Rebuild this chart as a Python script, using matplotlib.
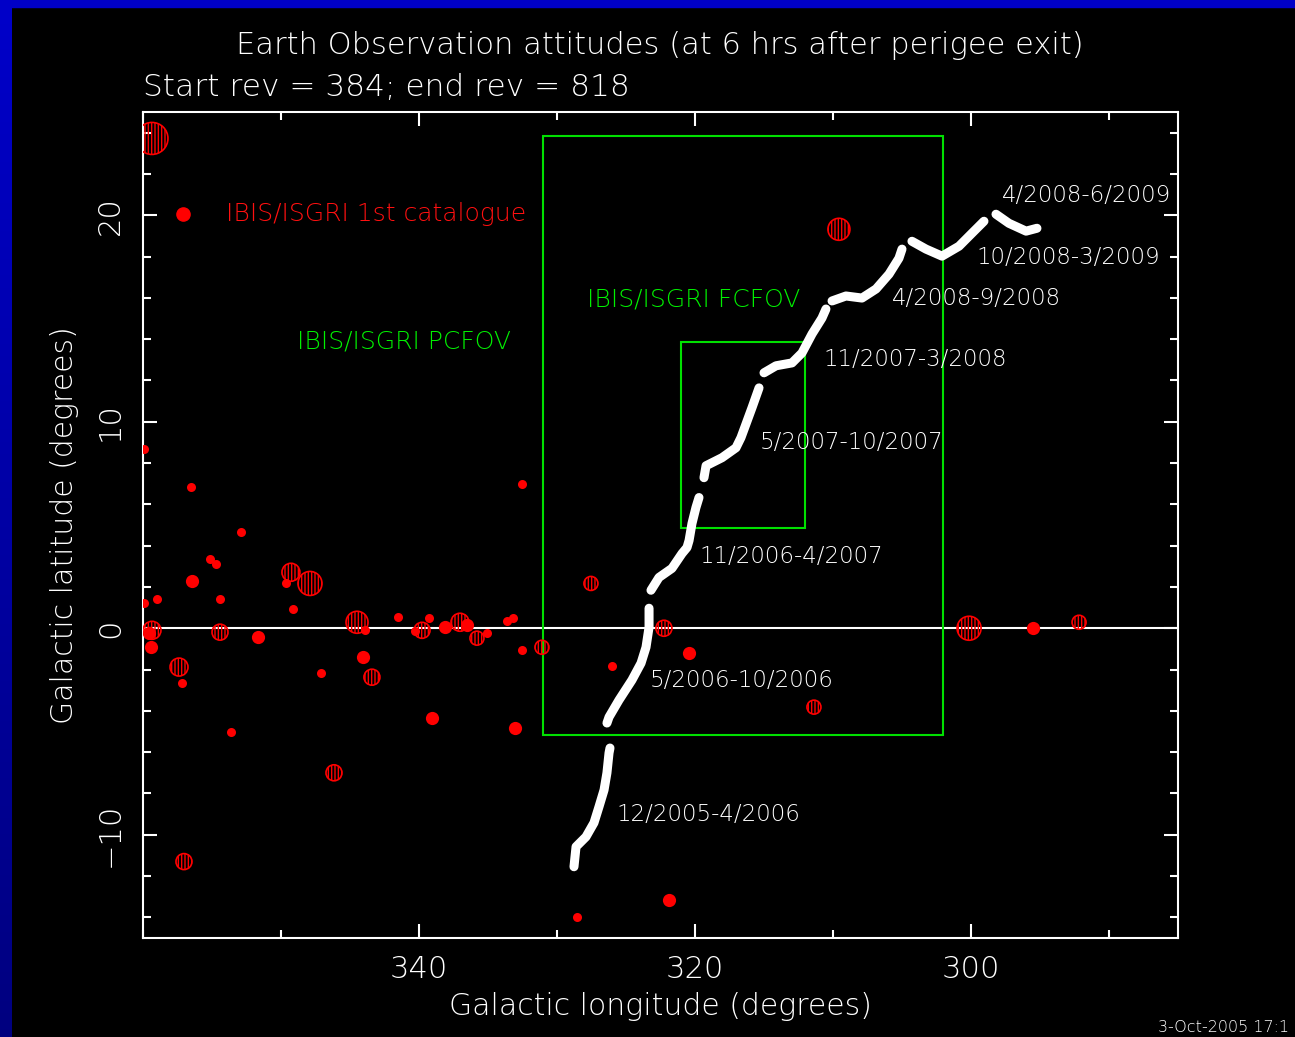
#### Workspace setup ####
import numpy as np
import matplotlib.pyplot as plt
from matplotlib.patches import Rectangle
from matplotlib.ticker import MultipleLocator

# 1) Spacecraft pointing track (galactic lon / lat), one list per visibility window
seg_lon = [
    [328.77, 328.62, 327.90, 327.32, 326.96, 326.59, 326.38, 326.23, 326.16],
    [326.38, 326.23, 325.51, 324.57, 323.91, 323.55, 323.33, 323.33],
    [323.19, 322.61, 321.67, 320.94, 320.58, 320.43, 320.22, 319.93, 319.71],
    [319.35, 319.20, 318.04, 317.03, 316.67, 316.30, 315.87, 315.36],
    [315.00, 314.13, 312.97, 312.25, 311.52, 310.80, 310.51],
    [310.07, 309.06, 307.90, 306.88, 305.94, 305.22, 305.00],
    [304.28, 303.26, 302.10, 300.87, 299.93, 299.06],
    [298.19, 297.25, 296.01, 295.22],
]
seg_lat = [
    [-11.55, -10.58, -10.10, -9.42, -8.65, -7.83, -7.00, -6.04, -5.80],
    [-4.59, -4.30, -3.48, -2.51, -1.69, -0.92, 0.05, 0.97],
    [1.84, 2.46, 2.90, 3.62, 3.91, 4.25, 5.07, 5.85, 6.33],
    [7.29, 7.87, 8.26, 8.74, 9.23, 9.90, 10.68, 11.64],
    [12.37, 12.71, 12.85, 13.33, 14.25, 15.02, 15.46],
    [15.85, 16.09, 15.99, 16.43, 17.15, 17.92, 18.36],
    [18.74, 18.36, 18.02, 18.50, 19.13, 19.71],
    [20.05, 19.61, 19.23, 19.37],
]
seg_labels = ["12/2005-4/2006", "5/2006-10/2006", "11/2006-4/2007", "5/2007-10/2007",
              "11/2007-3/2008", "4/2008-9/2008", "10/2008-3/2009", "4/2008-6/2009"]
label_lon = [325.72, 323.26, 319.71, 315.29, 310.72, 305.72, 299.64, 297.75]
label_lat = [-9.03, -2.51, 3.48, 8.99, 13.00, 15.99, 17.97, 20.97]

# 2) IBIS/ISGRI 1st catalogue sources
small_lon = [359.9, 356.52, 352.90, 355.14, 354.71, 358.99, 359.9, 354.42, 349.64, 349.13,
             357.17, 353.62, 343.91, 347.10, 341.52, 339.28, 340.29, 335.07, 333.62, 333.19,
             332.54, 332.54, 328.55, 326.01]
small_lat = [8.70, 6.86, 4.64, 3.33, 3.09, 1.40, 1.21, 1.40, 2.17, 0.92,
             -2.66, -5.02, -0.10, -2.17, 0.53, 0.48, -0.14, -0.24, 0.34, 0.48,
             7.00, -1.06, -14.00, -1.84]
mid_lon = [356.45, 359.42, 351.67, 344.06, 338.12, 336.52, 339.06, 333.04, 321.88, 320.43,
           295.51, 359.6]
mid_lat = [2.27, -0.92, -0.43, -1.40, 0.05, 0.14, -4.35, -4.83, -13.14, -1.21,
           0.00, -0.25]
# bright sources, weight = relative flux class (drawn as hatched discs)
bright_lon = [359.35, 349.28, 347.90, 359.35, 354.42, 357.39, 344.49, 343.41, 339.78, 337.03,
              335.80, 331.09, 346.16, 357.03, 327.54, 322.25, 311.38, 309.57, 300.14, 292.17]
bright_lat = [23.72, 2.71, 2.17, -0.10, -0.19, -1.88, 0.29, -2.37, -0.10, 0.29,
              -0.48, -0.92, -7.00, -11.30, 2.17, 0.00, -3.82, 19.32, 0.00, 0.29]
bright_w = [16, 9, 12, 9, 8, 9, 11, 8, 8, 9, 7, 7, 8, 8, 7, 8, 7, 11, 12, 7]

# 3) IBIS fields of view around the pointing centre
fov_lon, fov_lat = 316.55, 9.35
pcfov, fcfov = 29.0, 9.0

# 4) Plot
plt.rcParams['hatch.linewidth'] = 1.0
plt.rcParams['font.weight'] = 'light'
plt.rcParams['axes.labelweight'] = 'light'
fig = plt.figure(figsize=(12.95, 10.37), dpi=100, facecolor="black")

# blue frame of the slide
strip = fig.add_axes([0, 0, 12 / 1295, 1])
grad = np.linspace(0, 1, 256).reshape(-1, 1)
strip.imshow(np.dstack([0 * grad, 0 * grad, 0.5 + 0.29 * grad]), aspect="auto", origin="lower")
strip.axis("off")
fig.patches.append(Rectangle((0, 1 - 7 / 1037), 1, 7 / 1037, transform=fig.transFigure,
                             color="#0000c8", zorder=5))

ax = fig.add_axes([143 / 1295, 1 - 938 / 1037, 1035 / 1295, 826 / 1037])
ax.set_facecolor("black")
ax.set_xlim(360, 285)
ax.set_ylim(-15, 25)

ax.axhline(0, color="white", lw=1.5, zorder=1)

for w in [pcfov, fcfov]:
    ax.add_patch(Rectangle((fov_lon - w / 2, fov_lat - w / 2), w, w, fill=False,
                           ec="#00e000", lw=1.5, zorder=2))
ax.text(320.07, 15.94, "IBIS/ISGRI FCFOV", color="#00f000", fontsize=18, ha="center", va="center")
ax.text(341.09, 13.91, "IBIS/ISGRI PCFOV", color="#00f000", fontsize=18, ha="center", va="center")

for lon, lat in zip(seg_lon, seg_lat):
    ax.plot(lon, lat, color="white", lw=6.5, solid_capstyle="round", solid_joinstyle="round", zorder=4)
for txt, lx, ly in zip(seg_labels, label_lon, label_lat):
    ax.text(lx, ly, txt, color="white", fontsize=16.5, ha="left", va="center", zorder=5)

ax.scatter(small_lon, small_lat, s=6.5 ** 2, color="red", lw=0, zorder=3)
ax.scatter(mid_lon, mid_lat, s=9.5 ** 2, color="red", lw=0, zorder=3)
ax.scatter(bright_lon, bright_lat, s=(np.array(bright_w) * 1.44) ** 2, facecolors="none",
           edgecolors="red", hatch="|||||", linewidths=1.2, zorder=3)

# catalogue key
ax.plot([0.0386], [0.8765], "o", color="red", ms=9.5, transform=ax.transAxes)
ax.text(0.080, 0.8765, "IBIS/ISGRI 1st catalogue", color="#ff1010", fontsize=18,
        ha="left", va="center", transform=ax.transAxes)

ax.set_xticks([340, 320, 300])
ax.xaxis.set_minor_locator(MultipleLocator(10))
ax.set_yticks([-10, 0, 10, 20])
ax.yaxis.set_minor_locator(MultipleLocator(2))
ax.tick_params(which="both", direction="in", top=True, right=True, colors="white", width=1.5)
ax.tick_params(which="major", length=10, labelsize=22)
ax.tick_params(which="minor", length=5.5)
ax.tick_params(axis="x", pad=12)
ax.tick_params(axis="y", pad=13, labelrotation=90)
for lbl in ax.get_yticklabels():
    lbl.set_va("center")
for s in ax.spines.values():
    s.set_color("white")
    s.set_linewidth(1.5)

ax.set_xlabel("Galactic longitude (degrees)", color="white", fontsize=21.5, labelpad=6)
ax.set_ylabel("Galactic latitude (degrees)", color="white", fontsize=21.5, labelpad=12)

fig.text(660 / 1295, 1 - 46 / 1037, "Earth Observation attitudes (at 6 hrs after perigee exit)",
         color="white", fontsize=22, ha="center", va="center")
fig.text(143 / 1295, 1 - 87 / 1037, "Start rev = 384; end rev = 818",
         color="white", fontsize=22.5, ha="left", va="center")
fig.text(1158 / 1295, 1 - 1027 / 1037, "3-Oct-2005 17:1", color="white", fontsize=11.5,
         ha="left", va="center")

plt.savefig("out.png", dpi=100, facecolor="black")
